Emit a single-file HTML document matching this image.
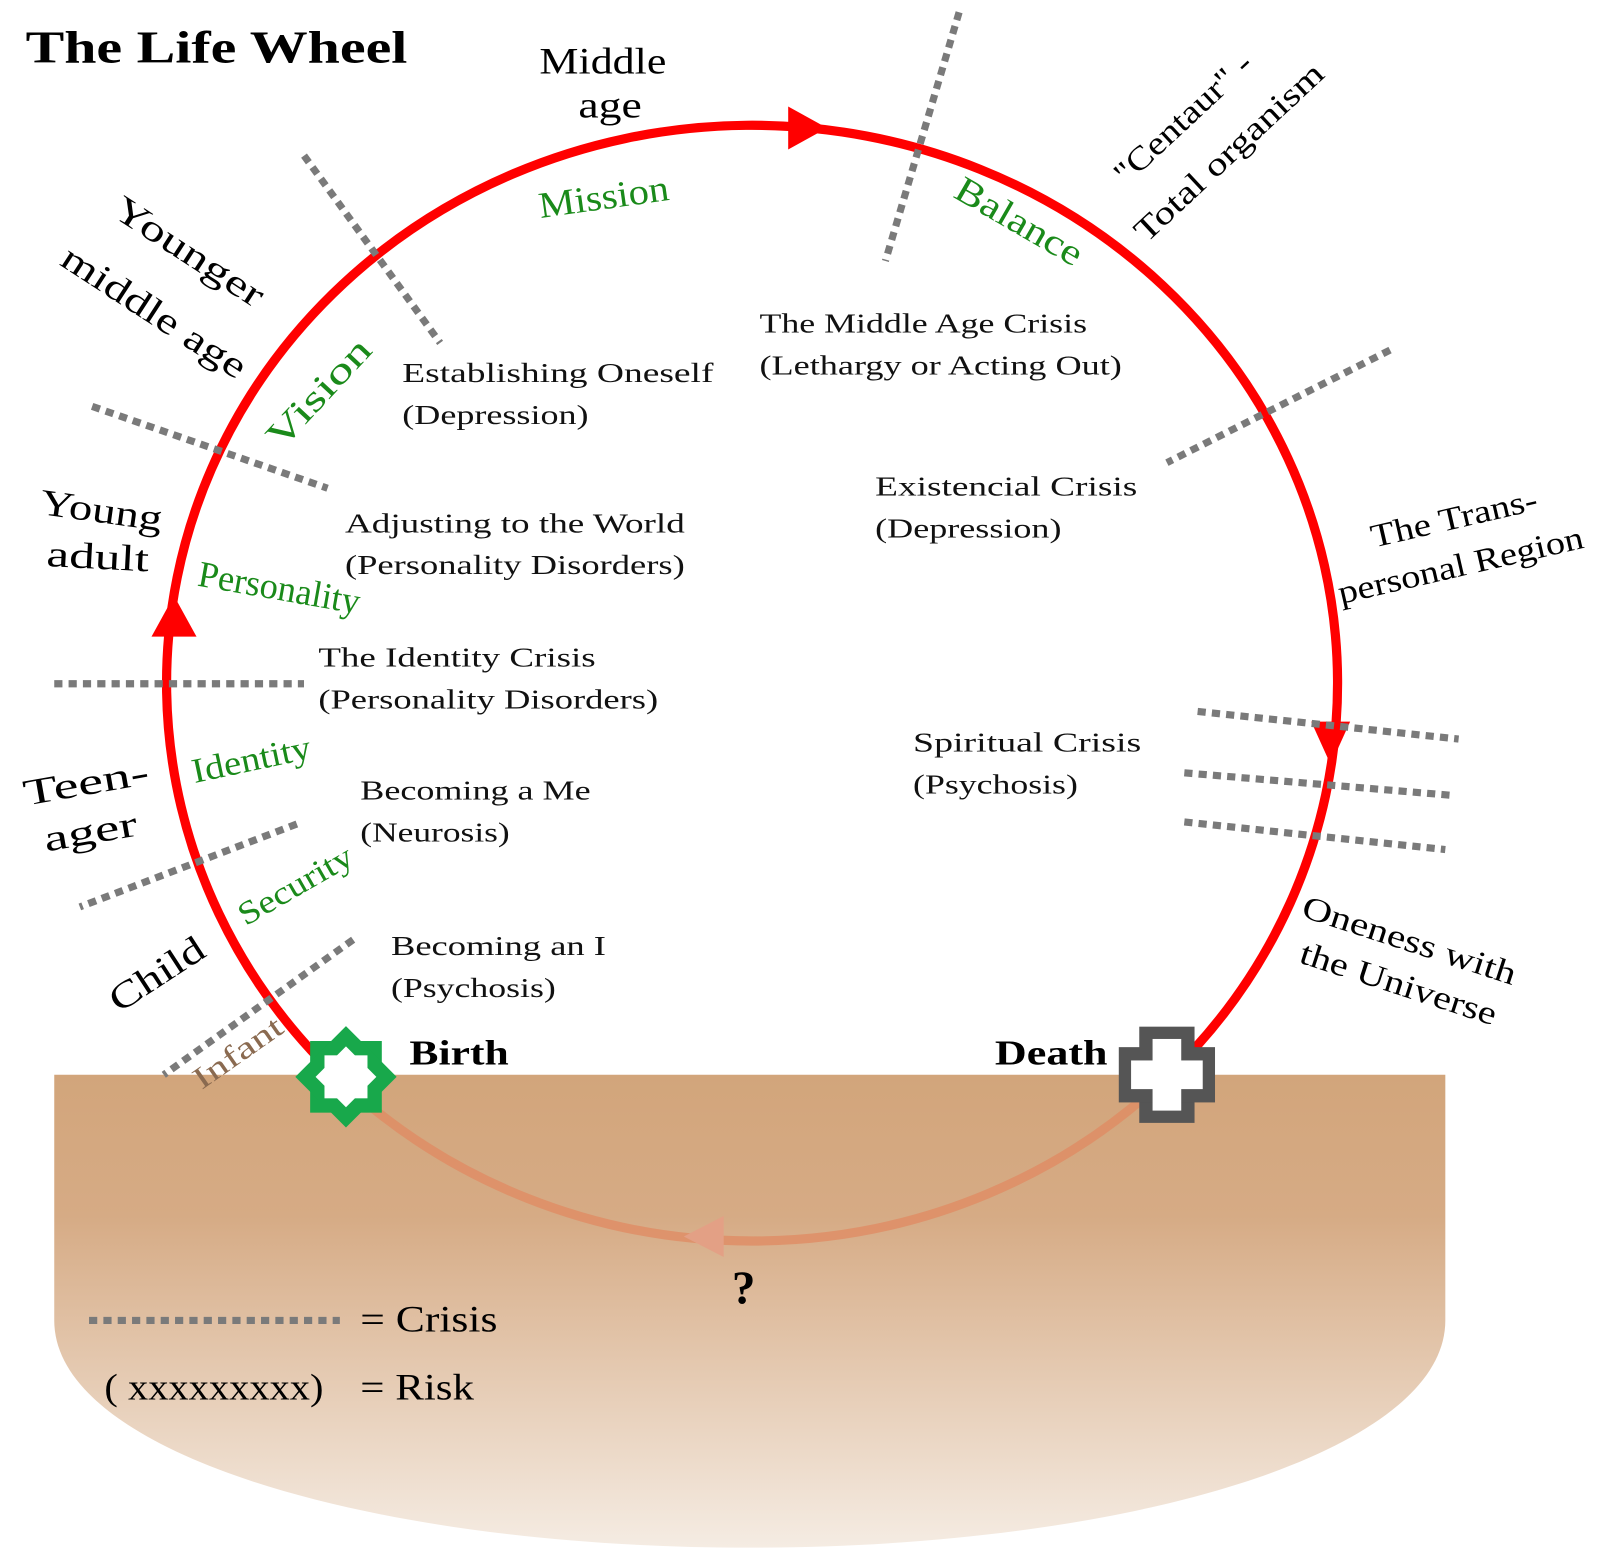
<!DOCTYPE html>
<html><head><meta charset="utf-8"><style>
html,body{margin:0;padding:0;background:#fff;}
svg{display:block;}
text{font-family:"Liberation Serif",serif;}
</style></head><body>
<svg width="1600" height="1555" viewBox="0 0 1600 1555" xmlns="http://www.w3.org/2000/svg">
<defs>
<linearGradient id="g" x1="0" y1="1050" x2="0" y2="1512" gradientUnits="userSpaceOnUse">
<stop offset="0" stop-color="#d2a57b"/>
<stop offset="0.3" stop-color="#d6ab85"/>
<stop offset="1" stop-color="#f5ece3"/>
</linearGradient>
</defs>
<g transform="scale(1.0236)">
<path d="M53 1050 H1412 V1290 C1412 1420 1100 1512 732 1512 C364 1512 53 1420 53 1290 Z" fill="url(#g)"/>

<path d="M1140 1052 A572 545 0 0 1 338 1060" fill="none" stroke="#e08a62" stroke-opacity="0.75" stroke-width="9"/>
<polygon points="707,1188 668,1208 707,1228" fill="#e3a085"/>
<path d="M338 1060 A572 545 0 1 1 1140 1052" fill="none" stroke="#ff0000" stroke-width="9"/>
<polygon points="770,104 808,125 770,146" fill="#ff0000"/>
<polygon points="148,622 170,582 192,622" fill="#ff0000"/>
<polygon points="1281,705 1300,747 1319,705" fill="#ff0000"/>

<g stroke="#7a7a7a" stroke-width="7" stroke-dasharray="8 6" fill="none">
<line x1="297" y1="152" x2="430" y2="335"/>
<line x1="937" y1="12" x2="865" y2="255"/>
<line x1="90" y1="397" x2="320" y2="477"/>
<line x1="1358" y1="342" x2="1140" y2="452"/>
<line x1="53" y1="668" x2="297" y2="668"/>
<line x1="1170" y1="695" x2="1425" y2="722"/>
<line x1="1157" y1="755" x2="1418" y2="777"/>
<line x1="1157" y1="803" x2="1412" y2="830"/>
<line x1="290" y1="805" x2="78" y2="886"/>
<line x1="345" y1="918" x2="160" y2="1050"/>
<line x1="87" y1="1290" x2="332" y2="1290"/>
</g>

<g transform="translate(338,1052)">
<rect x="-35" y="-35" width="70" height="70" fill="#18a84b"/>
<rect x="-35" y="-35" width="70" height="70" fill="#18a84b" transform="rotate(45)"/>
<rect x="-21" y="-21" width="42" height="42" fill="#fff"/>
<rect x="-21" y="-21" width="42" height="42" fill="#fff" transform="rotate(45)"/>
</g>
<g transform="translate(1140,1050)">
<rect x="-27" y="-47" width="54" height="94" fill="#555"/>
<rect x="-47" y="-27" width="94" height="54" fill="#555"/>
<rect x="-14" y="-35" width="28" height="70" fill="#fff"/>
<rect x="-35" y="-14" width="70" height="28" fill="#fff"/>
</g>

<text x="25" y="61" font-size="44" font-weight="bold" textLength="373" lengthAdjust="spacingAndGlyphs">The Life Wheel</text>

<g font-size="36" fill="#000">
<text x="527" y="72" textLength="124" lengthAdjust="spacingAndGlyphs">Middle</text>
<text x="565" y="115" textLength="62" lengthAdjust="spacingAndGlyphs">age</text>
<text transform="translate(108,210) rotate(33)" textLength="168" lengthAdjust="spacingAndGlyphs">Younger</text>
<text transform="translate(57,258) rotate(33)" textLength="208" lengthAdjust="spacingAndGlyphs">middle age</text>
<text transform="translate(38,502) rotate(8)" textLength="120" lengthAdjust="spacingAndGlyphs">Young</text>
<text transform="translate(45,553) rotate(3)" textLength="100" lengthAdjust="spacingAndGlyphs">adult</text>
<text transform="translate(25,787) rotate(-10)" textLength="124" lengthAdjust="spacingAndGlyphs">Teen-</text>
<text transform="translate(45,832) rotate(-10)" textLength="92" lengthAdjust="spacingAndGlyphs">ager</text>
<text transform="translate(116,990) rotate(-33)" textLength="104" lengthAdjust="spacingAndGlyphs">Child</text>
<text transform="translate(1100,182) rotate(-43)" font-size="32" textLength="172" lengthAdjust="spacingAndGlyphs">"Centaur" -</text>
<text transform="translate(1120,238) rotate(-43)" font-size="32" textLength="240" lengthAdjust="spacingAndGlyphs">Total organism</text>
<text transform="translate(1342,535) rotate(-13)" font-size="32" textLength="166" lengthAdjust="spacingAndGlyphs">The Trans-</text>
<text transform="translate(1310,590) rotate(-13)" font-size="32" textLength="245" lengthAdjust="spacingAndGlyphs">personal Region</text>
<text transform="translate(1270,895) rotate(18)" font-size="32" textLength="218" lengthAdjust="spacingAndGlyphs">Oneness with</text>
<text transform="translate(1268,940) rotate(18)" font-size="32" textLength="200" lengthAdjust="spacingAndGlyphs">the Universe</text>
</g>
<text transform="translate(197,1065) rotate(-35)" font-size="30" fill="#8a6a50" textLength="100" lengthAdjust="spacingAndGlyphs">Infant</text>

<g fill="#1a8a1a" font-size="36">
<text transform="translate(528,213) rotate(-8)" textLength="128" lengthAdjust="spacingAndGlyphs">Mission</text>
<text transform="translate(930,192) rotate(30)" textLength="138" lengthAdjust="spacingAndGlyphs">Balance</text>
<text transform="translate(275,440) rotate(-47)" textLength="132" lengthAdjust="spacingAndGlyphs">Vision</text>
<text transform="translate(192,572) rotate(10)" textLength="160" lengthAdjust="spacingAndGlyphs">Personality</text>
<text transform="translate(190,765) rotate(-12)" font-size="34" textLength="118" lengthAdjust="spacingAndGlyphs">Identity</text>
<text transform="translate(240,905) rotate(-30)" font-size="32" textLength="124" lengthAdjust="spacingAndGlyphs">Security</text>
</g>

<g font-size="27" fill="#111">
<text x="393" y="373" textLength="304" lengthAdjust="spacingAndGlyphs">Establishing Oneself</text>
<text x="393" y="414" textLength="182" lengthAdjust="spacingAndGlyphs">(Depression)</text>
<text x="742" y="325" textLength="320" lengthAdjust="spacingAndGlyphs">The Middle Age Crisis</text>
<text x="742" y="366" textLength="354" lengthAdjust="spacingAndGlyphs">(Lethargy or Acting Out)</text>
<text x="337" y="520" textLength="332" lengthAdjust="spacingAndGlyphs">Adjusting to the World</text>
<text x="337" y="561" textLength="332" lengthAdjust="spacingAndGlyphs">(Personality Disorders)</text>
<text x="855" y="484" textLength="256" lengthAdjust="spacingAndGlyphs">Existencial Crisis</text>
<text x="855" y="525" textLength="182" lengthAdjust="spacingAndGlyphs">(Depression)</text>
<text x="311" y="651" textLength="271" lengthAdjust="spacingAndGlyphs">The Identity Crisis</text>
<text x="311" y="692" textLength="332" lengthAdjust="spacingAndGlyphs">(Personality Disorders)</text>
<text x="892" y="734" textLength="223" lengthAdjust="spacingAndGlyphs">Spiritual Crisis</text>
<text x="892" y="775" textLength="161" lengthAdjust="spacingAndGlyphs">(Psychosis)</text>
<text x="352" y="781" textLength="225" lengthAdjust="spacingAndGlyphs">Becoming a Me</text>
<text x="352" y="822" textLength="146" lengthAdjust="spacingAndGlyphs">(Neurosis)</text>
<text x="382" y="933" textLength="210" lengthAdjust="spacingAndGlyphs">Becoming an I</text>
<text x="382" y="974" textLength="161" lengthAdjust="spacingAndGlyphs">(Psychosis)</text>
</g>

<text x="400" y="1040" font-size="34" font-weight="bold" textLength="97" lengthAdjust="spacingAndGlyphs">Birth</text>
<text x="972" y="1040" font-size="34" font-weight="bold" textLength="110" lengthAdjust="spacingAndGlyphs">Death</text>
<text x="715" y="1273" font-size="46" font-weight="bold">?</text>

<g font-size="36">
<text x="352" y="1301" textLength="134" lengthAdjust="spacingAndGlyphs">= Crisis</text>
<text x="102" y="1367" textLength="214" lengthAdjust="spacingAndGlyphs">( xxxxxxxxx)</text>
<text x="352" y="1367" textLength="111" lengthAdjust="spacingAndGlyphs">= Risk</text>
</g>
</g>
</svg>
</body></html>
